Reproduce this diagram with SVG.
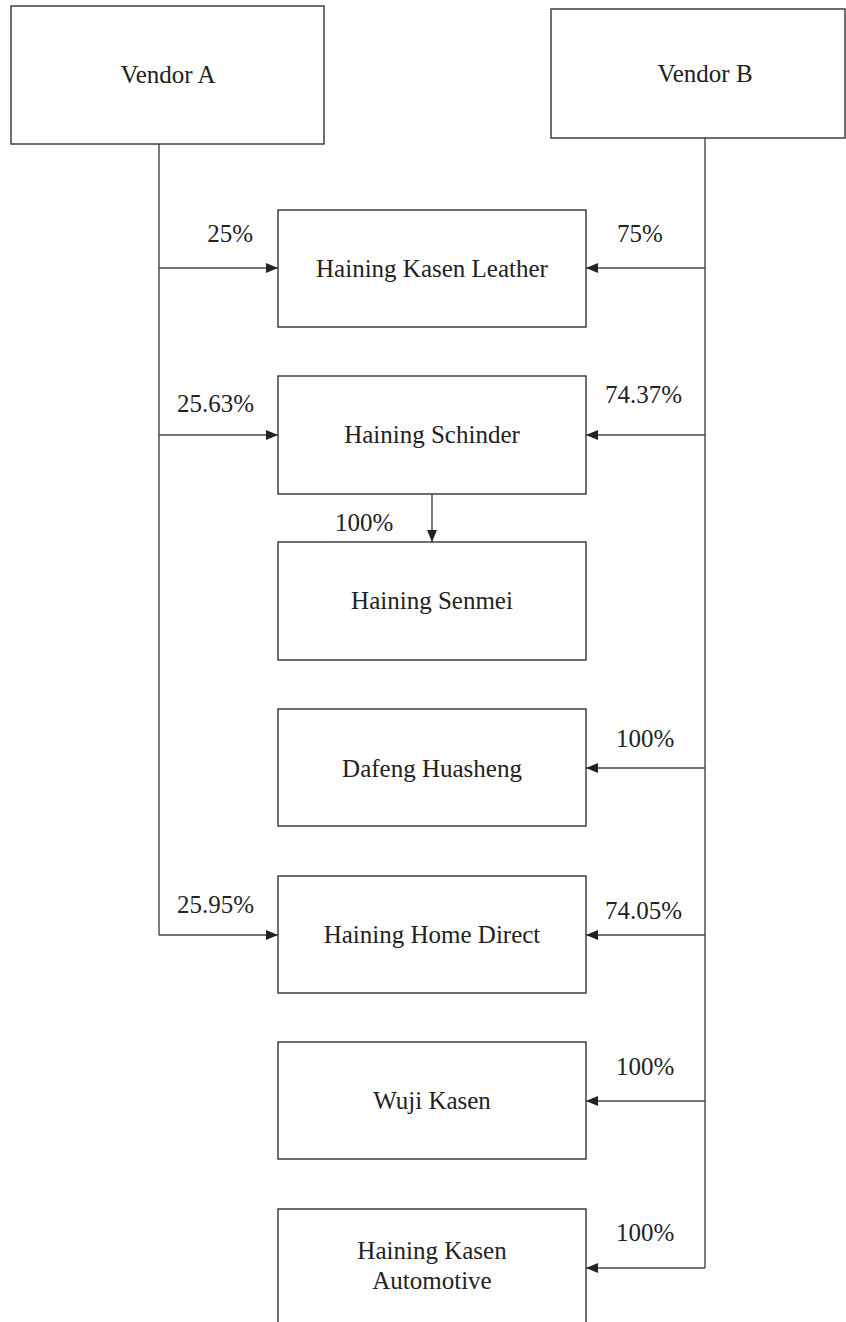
<svg xmlns="http://www.w3.org/2000/svg" width="846" height="1322" viewBox="0 0 846 1322">
<style>
.box{fill:#fff;stroke:#333;stroke-width:1.4}
.t{font-family:"Liberation Serif","Times New Roman",serif;font-size:25px;fill:#222}
.c{text-anchor:middle}
.e{text-anchor:end}
.ln{fill:none;stroke:#444;stroke-width:1.4}
</style>
<defs>
<marker id="ah" markerUnits="userSpaceOnUse" markerWidth="14" markerHeight="12" refX="12" refY="6" orient="auto">
<path d="M0,1 L12,6 L0,11 z" fill="#222"/>
</marker>
</defs>
<rect width="846" height="1322" fill="#fff"/>
<g id="connectors">
<path class="ln" d="M159,144 V935"/>
<path class="ln" d="M705,138 V1268"/>
<path class="ln" d="M159,268 H278" marker-end="url(#ah)"/>
<path class="ln" d="M705,268 H586" marker-end="url(#ah)"/>
<path class="ln" d="M159,435 H278" marker-end="url(#ah)"/>
<path class="ln" d="M705,435 H586" marker-end="url(#ah)"/>
<path class="ln" d="M432,494 V542" marker-end="url(#ah)"/>
<path class="ln" d="M705,768 H586" marker-end="url(#ah)"/>
<path class="ln" d="M159,935 H278" marker-end="url(#ah)"/>
<path class="ln" d="M705,935 H586" marker-end="url(#ah)"/>
<path class="ln" d="M705,1101 H586" marker-end="url(#ah)"/>
<path class="ln" d="M705,1268 H586" marker-end="url(#ah)"/>
<text class="t e" x="253" y="242">25%</text>
<text class="t" x="617" y="242">75%</text>
<text class="t e" x="254" y="412">25.63%</text>
<text class="t" x="605" y="403">74.37%</text>
<text class="t" x="335" y="531">100%</text>
<text class="t" x="616" y="747">100%</text>
<text class="t e" x="254" y="913">25.95%</text>
<text class="t" x="605" y="919">74.05%</text>
<text class="t" x="616" y="1075">100%</text>
<text class="t" x="616" y="1241">100%</text>
</g>
<g id="vendor-a"><rect class="box" x="11" y="6" width="313" height="138"/><text class="t c" x="168" y="83">Vendor A</text></g>
<g id="vendor-b"><rect class="box" x="551" y="9" width="294" height="129"/><text class="t c" x="705" y="82">Vendor B</text></g>
<g id="kasen-leather"><rect class="box" x="278" y="210" width="308" height="117"/><text class="t c" x="432" y="277">Haining Kasen Leather</text></g>
<g id="schinder"><rect class="box" x="278" y="376" width="308" height="118"/><text class="t c" x="432" y="443">Haining Schinder</text></g>
<g id="senmei"><rect class="box" x="278" y="542" width="308" height="118"/><text class="t c" x="432" y="609">Haining Senmei</text></g>
<g id="dafeng"><rect class="box" x="278" y="709" width="308" height="117"/><text class="t c" x="432" y="777">Dafeng Huasheng</text></g>
<g id="home-direct"><rect class="box" x="278" y="876" width="308" height="117"/><text class="t c" x="432" y="943">Haining Home Direct</text></g>
<g id="wuji"><rect class="box" x="278" y="1042" width="308" height="117"/><text class="t c" x="432" y="1109">Wuji Kasen</text></g>
<g id="automotive"><rect class="box" x="278" y="1209" width="308" height="130"/><text class="t c" x="432" y="1259">Haining Kasen</text><text class="t c" x="432" y="1289">Automotive</text></g>
</svg>
